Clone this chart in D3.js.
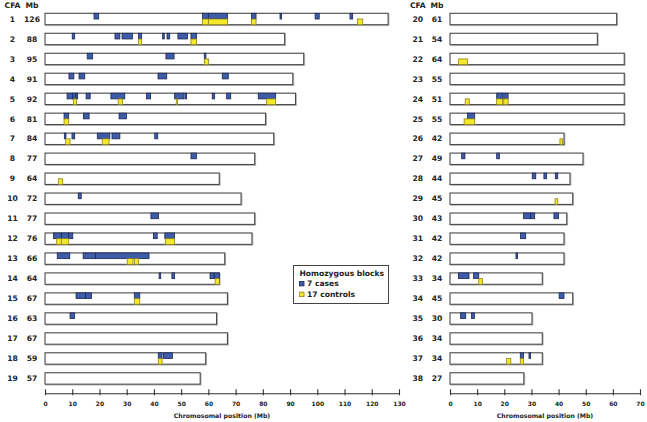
<!DOCTYPE html>
<html><head><meta charset="utf-8">
<script src="https://cdn.jsdelivr.net/npm/d3@7"></script>
<style>
body{margin:0;background:#fff;}
svg{display:block;}
text{font-family:"DejaVu Sans",Verdana,sans-serif;font-weight:bold;fill:#222;}
</style></head>
<body><svg id="c" width="647" height="422"></svg>
<script>
// ---- data ----
const chromLeft = ["1","2","3","4","5","6","7","8","9","10","11","12","13","14","15","16","17","18","19"];
const mbLeft    = [126,88,95,91,92,81,84,77,64,72,77,76,66,64,67,63,67,59,57];
const boxLeft   = [126,88,95,91,92,81,84,77,64,72,77,76,66,64,67,63,67,59,57];
const chromRight = ["20","21","22","23","24","25","26","27","28","29","30","31","32","33","34","35","36","37","38"];
const mbRight    = [61,54,64,55,51,55,42,49,44,45,43,42,42,34,45,30,34,34,27];
const boxRight   = [61.4,54.3,64.2,64.2,64.2,64.2,42,49,44.2,45.2,43,42,42,34,45.2,30.2,34,34,27.2];
const ticksLeft  = [0,10,20,30,40,50,60,70,80,90,100,110,120,130];
const ticksRight = [0,10,20,30,40,50,60,70];
const legendLabels = ["7 cases","17 controls"];

// [chromosome, start Mb, end Mb]
const caseBlocks = [
 ["1",18.0,19.7],["1",57.8,60.0],["1",60.0,67.0],["1",75.8,77.5],["1",86.3,86.9],["1",99.2,100.7],["1",112.0,113.0],
 ["2",10.0,10.9],["2",25.7,27.5],["2",28.3,32.1],["2",34.3,35.5],["2",43.2,43.8],["2",44.8,45.8],["2",48.8,52.3],["2",53.6,55.6],
 ["3",15.5,17.5],["3",44.4,47.4],["3",58.5,59.1],
 ["4",8.8,10.6],["4",12.5,14.6],["4",41.5,44.7],["4",65.1,67.3],
 ["5",8.1,10.2],["5",10.2,11.4],["5",11.4,12.0],["5",15.1,16.6],["5",24.2,29.3],["5",37.3,38.8],["5",47.6,51.0],["5",51.4,52.0],["5",61.4,62.3],["5",66.7,68.2],["5",78.3,84.7],
 ["6",7.0,8.7],["6",14.1,16.2],["6",27.2,29.9],
 ["7",7.1,7.7],["7",9.9,10.9],["7",19.2,23.8],["7",24.6,27.5],["7",40.3,41.4],
 ["8",53.6,55.6],
 ["10",12.2,13.3],
 ["11",38.9,41.7],
 ["12",3.1,6.0],["12",6.0,8.7],["12",8.7,10.2],["12",39.8,41.2],["12",44.0,47.6],
 ["13",4.5,9.1],["13",14.0,18.6],["13",18.6,38.2],
 ["14",41.9,42.5],["14",46.6,47.6],["14",60.6,62.1],["14",62.3,64.0],
 ["15",11.4,14.9],["15",14.9,17.1],["15",32.8,34.8],
 ["16",9.2,10.9],
 ["18",41.6,43.0],["18",43.5,46.8],
 ["24",17.2,19.4],["24",19.8,21.4],
 ["25",6.4,9.1],
 ["27",4.3,5.5],["27",17.2,18.2],
 ["28",30.3,31.6],["28",34.6,35.6],["28",38.8,39.7],
 ["30",27.1,29.7],["30",29.7,31.2],["30",38.3,40.0],
 ["31",26.0,27.9],
 ["32",24.3,24.9],
 ["33",3.1,7.0],["33",8.7,10.6],
 ["34",40.2,42.0],
 ["35",3.9,5.8],["35",7.9,9.0],
 ["37",25.9,27.1],["37",29.1,29.7]
];
const controlBlocks = [
 ["1",57.8,60.0],["1",60.0,67.0],["1",75.8,77.5],["1",114.7,116.7],
 ["2",34.3,35.5],["2",53.6,55.6],
 ["3",58.5,60.1],
 ["5",10.4,11.6],["5",26.9,28.5],["5",48.2,48.7],["5",81.4,84.7],
 ["6",7.0,8.7],
 ["7",7.6,9.2],["7",21.0,23.5],
 ["9",4.9,6.5],
 ["12",4.3,6.0],["12",6.0,8.7],["12",44.2,47.6],
 ["13",30.2,32.3],["13",32.9,34.4],
 ["14",62.5,64.0],
 ["15",32.8,34.8],
 ["18",41.6,43.0],
 ["22",3.1,6.5],
 ["24",5.6,7.1],["24",17.2,19.4],["24",19.8,21.4],
 ["25",5.2,9.1],
 ["26",40.5,41.4],
 ["29",38.7,39.7],
 ["33",10.6,12.0],
 ["37",20.8,22.4],["37",25.9,27.1]
];

// ---- drawing ----
const svg = d3.select("#c");
const caseFill = "#3f5ca9", caseStroke = "#1b2755";
const ctrlFill = "#f3e82a", ctrlStroke = "#8d8420";
const boxH = 11.4;

function panel(chroms, mbs, boxes, ticks, xr, maxMb, cfaX, mbX) {
  const x = d3.scaleLinear().domain([0, maxMb]).range(xr);
  const y = d3.scalePoint().domain(chroms).range([19, 19 + 18 * 19.97]);
  const g = svg.append("g");
  g.append("text").attr("x", cfaX).attr("y", 5.7).attr("dy", "0.35em")
    .attr("text-anchor", "middle").style("font-size", "7.6px").text("CFA");
  g.append("text").attr("x", mbX).attr("y", 5.7).attr("dy", "0.35em")
    .attr("text-anchor", "middle").style("font-size", "7.6px").text("Mb");
  chroms.forEach((c, i) => {
    g.append("text").attr("x", cfaX).attr("y", y(c)).attr("dy", "0.35em")
      .attr("text-anchor", "middle").style("font-size", "7.6px").text(c);
    g.append("text").attr("x", mbX).attr("y", y(c)).attr("dy", "0.35em")
      .attr("text-anchor", "middle").style("font-size", "7.6px").text(mbs[i]);
    g.append("rect").attr("x", x(0)).attr("y", y(c) - boxH / 2 + 0.6)
      .attr("width", x(boxes[i]) - x(0)).attr("height", boxH)
      .attr("fill", "none").attr("stroke", "#bbb").attr("stroke-width", 1.2)
      .attr("transform", "translate(0.8,0.2)");
    g.append("rect").attr("x", x(0)).attr("y", y(c) - boxH / 2)
      .attr("width", x(boxes[i]) - x(0)).attr("height", boxH)
      .attr("fill", "#fff").attr("stroke", "#4a4a4a").attr("stroke-width", 1.1);
  });
  const set = new Set(chroms);
  const draw = (data, fill, stroke, top) => {
    g.selectAll(null).data(data.filter(d => set.has(d[0]))).enter().append("rect")
      .attr("x", d => x(d[1]))
      .attr("y", d => top ? y(d[0]) - boxH / 2 : y(d[0]))
      .attr("width", d => Math.max(1.4, x(d[2]) - x(d[1])))
      .attr("height", boxH / 2)
      .attr("fill", fill).attr("stroke", stroke).attr("stroke-width", 0.8);
  };
  draw(caseBlocks, caseFill, caseStroke, true);
  draw(controlBlocks, ctrlFill, ctrlStroke, false);

  const axis = d3.axisBottom(x).tickValues(ticks).tickSize(0).tickPadding(8).tickFormat(d3.format("d"));
  const ag = g.append("g").attr("transform", "translate(0,393.3)").call(axis);
  ag.select(".domain").attr("stroke", "#333").attr("stroke-width", 1.1);
  ag.selectAll(".tick line").remove();
  ag.selectAll(".tick").append("line").attr("y1", -4).attr("y2", 2).attr("stroke", "#333").attr("stroke-width", 1.1);
  ag.selectAll(".tick text").style("font-size", "6px").attr("fill", "#222")
    .style("font-family", "'DejaVu Sans',sans-serif").style("font-weight", "bold");
  g.append("text").attr("x", (xr[0] + xr[1]) / 2).attr("y", 416).attr("dy", "0.35em")
    .attr("text-anchor", "middle").style("font-size", "6.2px").text("Chromosomal position (Mb)");
}

panel(chromLeft, mbLeft, boxLeft, ticksLeft, [45, 399], 130, 12.5, 32);
panel(chromRight, mbRight, boxRight, ticksRight, [450, 640], 70, 417.8, 437);

// legend
const lg = svg.append("g");
lg.append("rect").attr("x", 293.5).attr("y", 265.5).attr("width", 95).attr("height", 38)
  .attr("fill", "#fff").attr("stroke", "#444").attr("stroke-width", 1);
lg.append("text").attr("x", 299.5).attr("y", 273).attr("dy", "0.35em").style("font-size", "7.6px").text("Homozygous blocks");
[[caseFill, caseStroke], [ctrlFill, ctrlStroke]].forEach((c, i) => {
  const yy = 283.7 + i * 10.7;
  lg.append("rect").attr("x", 299.5).attr("y", yy - 2.3).attr("width", 4.5).attr("height", 4.5)
    .attr("fill", c[0]).attr("stroke", c[1]).attr("stroke-width", 0.8);
  lg.append("text").attr("x", 307).attr("y", yy).attr("dy", "0.35em").style("font-size", "7.6px").text(legendLabels[i]);
});
</script></body></html>
